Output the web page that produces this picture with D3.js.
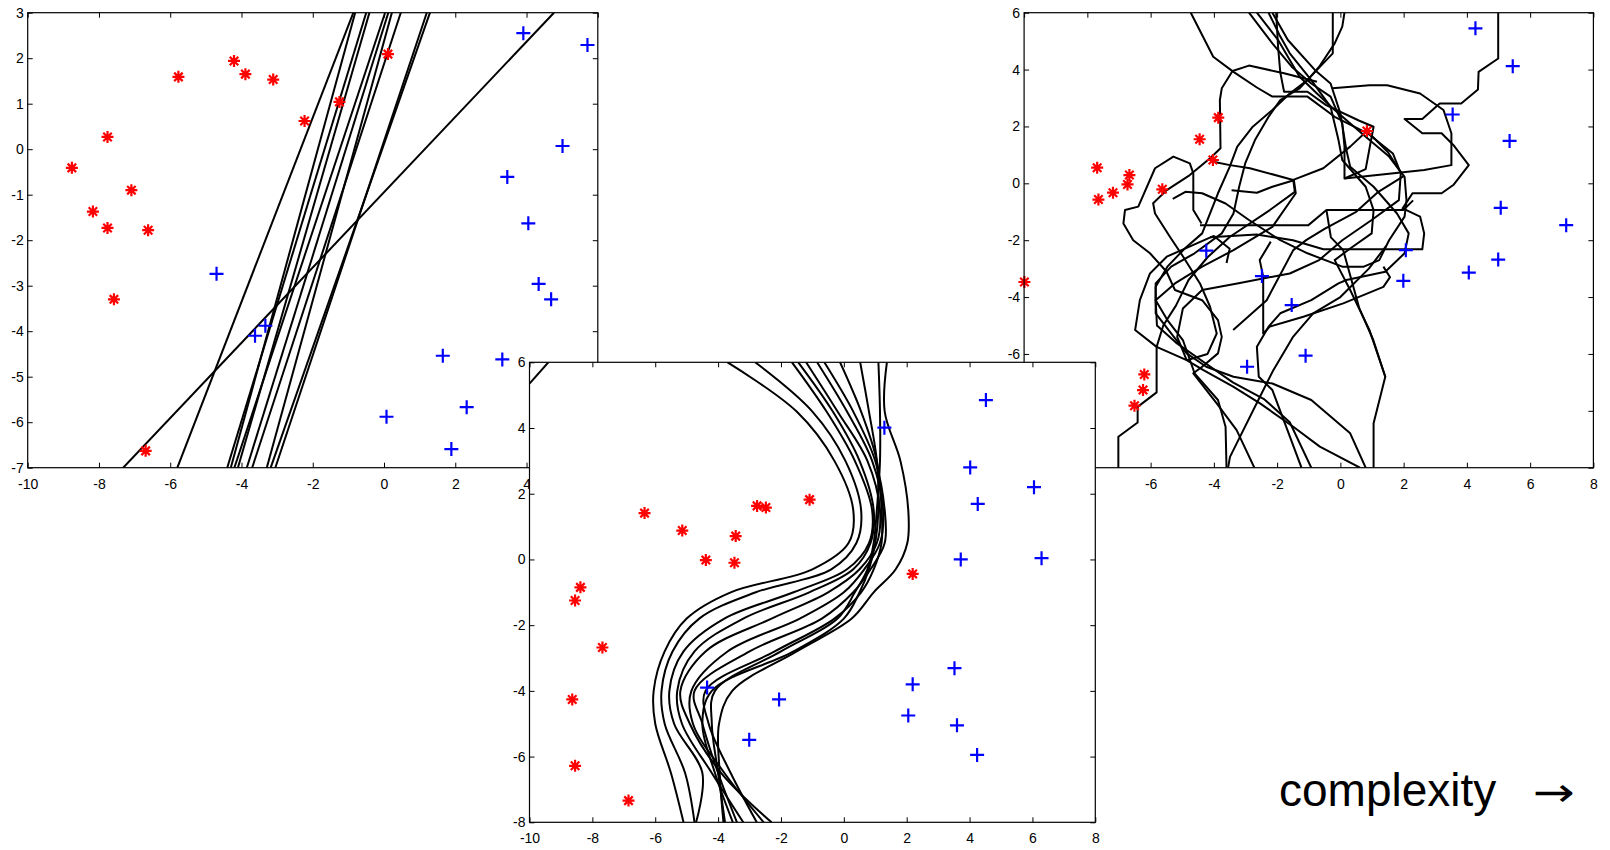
<!DOCTYPE html>
<html><head><meta charset="utf-8">
<script src="https://cdn.jsdelivr.net/npm/d3@7"></script>
<style>body{margin:0;background:#fff}svg{display:block}</style>
</head><body>
<svg id="c" width="1610" height="850"></svg>
<script>
// ---------- LEFT PANEL (linear boundaries) ----------
const leftXTicks = [-10,-8,-6,-4,-2,0,2,4,6];
const leftYTicks = [-7,-6,-5,-4,-3,-2,-1,0,1,2,3];
const leftRed = [[-8.76,-0.41],[-7.76,0.27],[-8.17,-1.37],[-7.76,-1.73],[-7.09,-0.90],[-6.62,-1.78],[-7.58,-3.30],[-5.77,1.59],[-4.21,1.94],[-3.89,1.65],[-3.11,1.53],[-2.23,0.62],[-1.25,1.04],[0.11,2.09],[-6.69,-6.63]];
const leftBlue = [[3.91,2.55],[5.71,2.29],[5.01,0.07],[3.46,-0.61],[4.05,-1.63],[4.34,-2.96],[4.69,-3.30],[-4.70,-2.74],[-3.62,-4.10],[-3.33,-3.88],[1.65,-4.54],[3.32,-4.62],[0.07,-5.88],[2.32,-5.67],[1.89,-6.59]];
// each line: x where it meets y=-7 (bottom) and y=3 (top)
const leftLineBottomX = [-7.32,-5.80,-4.40,-4.30,-4.20,-4.10,-3.85,-3.70,-3.29,-3.18,-3.05];
const leftLineTopX    = [ 4.77,-0.86,-0.50,-0.81, 0.03,-0.41, 0.12, 0.47, 0.22, 1.29, 1.20];

// ---------- MIDDLE PANEL (smooth boundaries) ----------
const midXTicks = [-10,-8,-6,-4,-2,0,2,4,6,8];
const midYTicks = [-8,-6,-4,-2,0,2,4,6];
const midRed = [[-6.34,1.41],[-5.14,0.88],[-4.39,-0.02],[-3.44,0.71],[-3.48,-0.10],[-2.76,1.63],[-2.48,1.58],[-1.09,1.82],[-8.38,-0.85],[-8.55,-1.25],[-7.68,-2.68],[-8.64,-4.26],[-8.55,-6.28],[-6.85,-7.34],[2.19,-0.44]];
const midBlue = [[1.29,4.01],[4.52,4.85],[4.02,2.80],[4.26,1.69],[6.05,2.20],[3.72,0.00],[6.29,0.04],[3.52,-3.31],[2.19,-3.80],[2.05,-4.75],[3.60,-5.05],[4.24,-5.95],[-4.35,-3.90],[-2.06,-4.26],[-3.01,-5.49]];
const midCurveY = [6, 4.5, 3, 1.5, 0.5, -0.3, -1, -1.8, -2.8, -4, -5, -6.5, -8];
const midCurvesX = [
  [-3.70,-1.50,-0.30,0.30,0.15,-1.00,-3.60,-5.00,-5.70,-6.05,-6.00,-5.50,-5.10],
  [-2.82,-1.00,0.05,0.55,0.40,-0.40,-2.80,-4.60,-5.45,-5.80,-5.70,-5.05,-4.75],
  [-1.65,-0.55,0.35,0.90,0.80,0.10,-1.60,-3.80,-5.10,-5.55,-5.40,-4.50,-4.70],
  [-1.45,-0.35,0.50,0.95,0.85,0.30,-1.10,-3.20,-4.75,-5.30,-5.15,-4.20,-3.20],
  [-1.20,-0.20,0.75,1.15,1.05,0.50,-0.50,-2.30,-4.40,-5.20,-4.90,-3.90,-2.30],
  [-0.85,0.10,0.90,1.25,1.15,0.65,0.00,-1.40,-3.70,-4.85,-4.80,-3.80,-2.55],
  [-0.62,0.30,1.00,1.30,1.30,0.85,0.30,-0.70,-3.00,-4.75,-4.50,-4.00,-3.40],
  [-0.12,0.55,1.05,1.20,1.20,0.95,0.55,-0.30,-2.20,-4.40,-4.30,-3.60,-2.77],
  [0.52,0.80,1.05,1.10,1.00,0.80,0.50,0.00,-1.60,-4.20,-4.50,-4.10,-3.53],
  [1.10,1.15,1.15,1.05,0.95,0.75,0.35,-0.20,-2.00,-4.10,-4.20,-4.00,-3.78],
  [1.37,1.30,1.80,2.05,2.02,1.65,0.95,0.25,-1.50,-3.55,-3.97,-3.95,-3.83]
];
const midCornerCurve = [[-10,5.35],[-9.4,6]];

// ---------- RIGHT PANEL (jagged boundaries) ----------
const rightXTicks = [-10,-8,-6,-4,-2,0,2,4,6,8];
const rightYTicks = [-10,-8,-6,-4,-2,0,2,4,6];
const rightRed = [[-7.69,0.55],[-7.65,-0.57],[-7.19,-0.33],[-6.67,0.29],[-6.73,-0.04],[-5.63,-0.21],[-4.45,1.55],[-3.86,2.31],[-4.03,0.82],[0.84,1.84],[-9.99,-3.47],[-6.20,-6.72],[-6.24,-7.27],[-6.51,-7.82]];
const rightBlue = [[4.27,5.45],[5.45,4.12],[3.55,2.42],[5.35,1.49],[5.07,-0.86],[7.14,-1.47],[4.99,-2.68],[4.06,-3.14],[2.07,-2.35],[1.99,-3.43],[-4.24,-2.37],[-2.48,-3.26],[-1.54,-4.28],[-1.10,-6.06],[-2.95,-6.45]];
const rightPaths = [
  [[4.99,6.0],[4.99,4.39],[4.37,3.92],[4.35,3.30],[3.82,2.81],[3.14,2.81],[2.59,2.26],[2.03,2.26],[2.59,1.76],[3.20,1.76],[3.57,1.35],[4.06,0.64],[3.57,-0.06],[3.20,-0.35],[2.28,-0.35],[1.97,-0.88],[2.52,-1.17],[2.65,-1.76],[2.59,-2.32],[-0.54,-2.32],[-1.5,-2.0],[-2.65,-1.8],[-4.12,-1.9]],
  [[-4.73,6.0],[-4.02,4.45],[-3.38,3.92],[-2.64,3.37],[-2.15,3.05],[-1.04,3.05],[-0.18,2.34],[0.86,1.76],[1.66,1.05],[1.91,0.35],[1.85,-0.59],[0.99,-1.29],[0.06,-2.00],[-0.67,-2.70],[-1.60,-3.17],[-3.26,-3.52],[-4.37,-3.75],[-4.98,-4.40],[-5.16,-5.40],[-4.86,-6.22],[-4.33,-6.57],[-3.39,-7.15],[-2.54,-7.74],[-1.49,-8.56],[-0.65,-9.26],[0.62,-10.0]],
  [[-2.89,6.0],[-2.15,4.92],[-1.54,4.10],[-0.92,3.51],[-0.31,3.05],[0.06,2.11],[0.13,1.29],[0.13,0.17],[2.65,0.47],[3.51,0.64],[3.51,1.76],[3.26,2.58],[2.52,3.16],[1.48,3.45],[0.92,3.45],[-0.25,3.34]],
  [[-2.64,6.0],[-1.97,5.04],[-1.29,3.75],[-0.74,3.16],[-0.18,2.58],[0.80,1.64],[1.54,0.94],[2.03,0.23],[2.09,-0.59],[2.03,-1.17],[1.54,-2.00],[1.23,-2.70],[0.74,-2.93],[0.06,-2.93],[-1.04,-2.46],[-1.90,-2.00],[-2.89,-1.29],[-3.63,-0.71],[-4.37,-0.35],[-4.9,-0.3],[-5.3,-0.55]],
  [[-2.27,6.0],[-1.90,5.16],[-1.60,4.57],[-0.92,3.63],[-0.31,2.69],[-0.06,1.52],[0.06,0.82],[0.80,-0.12],[1.05,-0.94],[0.99,-1.76],[0.31,-2.29],[-0.18,-2.70],[0.31,-3.75],[0.92,-5.16],[1.42,-6.80],[1.05,-8.44],[1.05,-10.0]],
  [[-2.15,6.0],[-1.66,5.04],[-0.80,3.98],[-0.31,3.51],[0.00,2.46],[0.19,1.17],[0.31,0.58],[1.05,-0.12],[1.79,-1.06],[2.16,-1.76],[2.03,-2.46],[1.42,-3.11],[0.19,-3.40],[-0.06,-3.52],[-0.92,-4.11],[-1.90,-4.57],[-2.27,-5.04],[-2.64,-5.75],[-2.58,-6.80],[-2.15,-7.27],[-1.70,-8.6],[-1.23,-10.0]],
  [[-2.03,6.0],[-1.97,4.80],[-1.90,3.9],[-1.78,3.22],[-1.04,3.22],[-0.45,2.75],[0.6,2.2],[1.05,1.99],[0.95,1.4],[0.8,0.5],[0.13,0.17]],
  [[-0.24,6.0],[-0.24,4.57],[-0.80,3.92],[-1.29,3.34],[-1.90,2.93],[-2.27,2.34],[-2.70,1.52],[-3.01,0.70],[-3.20,-0.12],[-3.38,-1.06],[-3.75,-1.76],[-4.61,-2.46],[-5.35,-2.93],[-5.84,-3.52],[-5.84,-4.11],[-5.47,-4.81],[-4.98,-5.51],[-4.61,-6.68],[-3.87,-7.62],[-3.63,-8.56],[-3.60,-10.0]],
  [[0.13,6.0],[0.06,5.51],[-0.18,4.92],[-0.67,4.10],[-1.04,3.63],[-1.60,3.16],[-2.15,2.58],[-2.77,1.99],[-3.26,1.29],[-3.50,0.58],[-3.87,-0.35],[-4.12,-1.06],[-4.37,-1.76],[-4.92,-2.29],[-5.47,-2.93],[-5.84,-3.64],[-5.84,-4.57],[-5.35,-5.28],[-4.86,-5.98],[-4.24,-6.45],[-3.38,-6.80],[-2.15,-7.04],[-0.92,-7.62],[0.31,-8.79],[0.80,-10.0]],
  [[-4.39,-1.41],[-4.65,-0.94],[-4.65,0.35],[-4.76,0.70],[-5.28,0.94],[-5.86,0.53],[-6.39,-0.82],[-6.81,-0.94],[-6.86,-1.41],[-6.55,-2.0],[-6.02,-2.46],[-5.5,-3.1],[-5.23,-3.75],[-4.37,-4.11],[-3.87,-4.81],[-3.75,-5.40],[-3.87,-5.98],[-4.37,-6.45],[-4.65,-6.68],[-3.91,-7.74],[-3.28,-8.68],[-2.72,-10.0]],
  [[-0.74,3.57],[-1.78,3.87],[-2.89,4.14],[-3.41,3.95],[-3.75,3.34],[-3.81,2.93],[-3.79,1.23],[-4.12,0.88],[-4.76,0.29],[-5.49,-0.24],[-5.92,-0.70],[-5.86,-1.06],[-5.39,-1.88],[-4.97,-2.58],[-4.44,-3.52],[-4.12,-4.34],[-3.91,-5.28],[-4.2,-6.0],[-4.86,-6.22]],
  [[-7.02,-10.0],[-7.02,-8.91],[-6.41,-8.41],[-6.41,-7.86],[-5.81,-7.35],[-5.81,-5.75],[-6.49,-5.16],[-6.34,-4.11],[-6.02,-3.17],[-5.49,-2.58],[-4.54,-2.11],[-4.0,-1.85],[-3.5,-2.3],[-3.6,-2.8]],
  [[-4.44,-1.47],[-1.01,-1.47],[-0.44,-0.94],[1.99,-0.94],[2.3,-0.6]],
  [[-4.02,0.76],[-3.49,0.64],[-2.86,0.53],[-1.49,0.12],[-0.54,0.53],[0.31,1.29],[0.84,1.84],[1.5,1.1],[1.9,0.4]],
  [[-1.49,0.12],[-1.44,-0.30],[-2.23,-0.94],[-3.49,-1.88],[-4.2,-2.6],[-4.8,-3.4],[-5.2,-4.3],[-5.6,-5.0],[-5.81,-5.75],[-4.86,-6.22]],
  [[-3.44,-0.24],[-2.64,-0.33],[-2.15,-0.12],[-1.47,0.11],[-1.41,-0.35],[-2.15,-1.53],[-3.38,-2.35],[-4.37,-2.93],[-5.23,-3.52],[-5.84,-4.11],[-5.8,-5.0],[-5.2,-5.6],[-4.3,-6.3],[-3.4,-7.0],[-2.4,-7.6],[-1.6,-8.4],[-0.92,-10.0]],
  [[-2.2,-2.05],[-2.55,-2.7],[-2.44,-3.28],[-2.44,-5.28],[-2.23,-5.04],[-1.17,-4.69],[0.09,-4.22],[1.36,-3.64],[1.57,-3.3],[1.36,-2.93]],
  [[1.42,-6.8],[1.04,-5.51],[0.6,-4.4],[0.09,-2.35],[-0.3,-1.9],[-0.44,-0.94]],
  [[-3.39,-5.16],[-2.33,-4.11],[-1.49,-2.35],[-1.07,-1.99],[-0.5,-1.6],[0.5,-1.0],[1.2,-0.3],[2.0,0.25]],
  [[1.45,-2.2],[0.9,-3.0],[0.0,-4.0],[-0.86,-4.57],[-1.49,-5.39],[-2.12,-6.57],[-2.65,-7.74],[-3.49,-9.62],[-3.55,-10.0]]
];

const captionText = "complexity";
const captionArrow = "\u2192";

// ---------- drawing ----------
const svg = d3.select('#c');
const FONT = '"Liberation Sans", Arial, Helvetica, sans-serif';
let clipN = 0;

function starPath(cx, cy, r) {
  const d = r * Math.SQRT1_2;
  return `M${cx-r},${cy}L${cx+r},${cy}M${cx},${cy-r}L${cx},${cy+r}` +
         `M${cx-d},${cy-d}L${cx+d},${cy+d}M${cx-d},${cy+d}L${cx+d},${cy-d}`;
}
function plusPath(cx, cy, r) {
  return `M${cx-r},${cy}L${cx+r},${cy}M${cx},${cy-r}L${cx},${cy+r}`;
}

function panel(box, xdom, ydom, xticks, yticks) {
  const x = d3.scaleLinear().domain(xdom).range([box.x0, box.x1]);
  const y = d3.scaleLinear().domain(ydom).range([box.y1, box.y0]);
  const g = svg.append('g');
  g.append('rect').attr('x', box.x0).attr('y', box.y0)
    .attr('width', box.x1 - box.x0).attr('height', box.y1 - box.y0)
    .attr('fill', '#fff');
  const id = 'clip' + (clipN++);
  g.append('clipPath').attr('id', id).append('rect')
    .attr('x', box.x0).attr('y', box.y0)
    .attr('width', box.x1 - box.x0).attr('height', box.y1 - box.y0);
  const content = g.append('g').attr('clip-path', `url(#${id})`);
  const marks = g.append('g');
  const fmt = d => String(d);
  const style = sel => {
    sel.select('.domain').remove();
    sel.selectAll('line').attr('stroke', '#000').attr('stroke-width', 1);
    sel.selectAll('text').attr('fill', '#000').style('font-family', FONT).style('font-size', '14px');
  };
  const axes = g.append('g');
  axes.append('g').attr('transform', `translate(0,${box.y1})`)
    .call(d3.axisBottom(x).tickValues(xticks).tickSize(-5).tickPadding(11).tickFormat(fmt)).call(style);
  axes.append('g').attr('transform', `translate(0,${box.y0})`)
    .call(d3.axisTop(x).tickValues(xticks).tickSize(-5).tickFormat('')).call(style);
  axes.append('g').attr('transform', `translate(${box.x0},0)`)
    .call(d3.axisLeft(y).tickValues(yticks).tickSize(-5).tickPadding(4).tickFormat(fmt)).call(style);
  axes.append('g').attr('transform', `translate(${box.x1},0)`)
    .call(d3.axisRight(y).tickValues(yticks).tickSize(-5).tickFormat('')).call(style);
  g.append('rect').attr('x', box.x0).attr('y', box.y0)
    .attr('width', box.x1 - box.x0).attr('height', box.y1 - box.y0)
    .attr('fill', 'none').attr('stroke', '#000').attr('stroke-width', 1.2);
  return {x, y, content, marks};
}

function drawMarkers(p, red, blue) {
  p.marks.selectAll('path.star').data(red).join('path').attr('class', 'star')
    .attr('d', d => starPath(p.x(d[0]), p.y(d[1]), 6))
    .attr('stroke', '#ff0000').attr('stroke-width', 2.2).attr('fill', 'none');
  p.marks.selectAll('path.plus').data(blue).join('path').attr('class', 'plus')
    .attr('d', d => plusPath(p.x(d[0]), p.y(d[1]), 7))
    .attr('stroke', '#0000ff').attr('stroke-width', 2.2).attr('fill', 'none');
}

// Left panel
const L = panel({x0: 27.7, x1: 597.8, y0: 12.7, y1: 467.7}, [-10, 6], [-7, 3], leftXTicks, leftYTicks);
const lineGen = d3.line();
L.content.selectAll('path.bd').data(leftLineBottomX.map((b, i) => [[b, -7], [leftLineTopX[i], 3]]))
  .join('path').attr('class', 'bd')
  .attr('d', d => lineGen(d.map(q => [L.x(q[0]), L.y(q[1])])))
  .attr('stroke', '#000').attr('stroke-width', 2).attr('fill', 'none');
drawMarkers(L, leftRed, leftBlue);

// Right panel
const R = panel({x0: 1024.1, x1: 1593.4, y0: 12.7, y1: 467.7}, [-10, 8], [-10, 6], rightXTicks, rightYTicks);
R.content.selectAll('path.bd').data(rightPaths).join('path').attr('class', 'bd')
  .attr('d', d => lineGen(d.map(q => [R.x(q[0]), R.y(q[1])])))
  .attr('stroke', '#000').attr('stroke-width', 2).attr('fill', 'none')
  .attr('stroke-linejoin', 'round');
drawMarkers(R, rightRed, rightBlue);

// Middle panel (on top)
const M = panel({x0: 529.5, x1: 1095.3, y0: 362.3, y1: 822.3}, [-10, 8], [-8, 6], midXTicks, midYTicks);
const smooth = d3.line().curve(d3.curveCatmullRom.alpha(0.5));
M.content.selectAll('path.bd').data(midCurvesX.map(xs => xs.map((v, i) => [v, midCurveY[i]])))
  .join('path').attr('class', 'bd')
  .attr('d', d => smooth(d.map(q => [M.x(q[0]), M.y(q[1])])))
  .attr('stroke', '#000').attr('stroke-width', 2).attr('fill', 'none');
M.content.append('path')
  .attr('d', lineGen(midCornerCurve.map(q => [M.x(q[0]), M.y(q[1])])))
  .attr('stroke', '#000').attr('stroke-width', 2).attr('fill', 'none');
drawMarkers(M, midRed, midBlue);

// caption
svg.append('text').attr('x', 1279).attr('y', 806).text(captionText)
  .style('font-family', FONT).style('font-size', '46px').attr('fill', '#000');
svg.append('text').attr('x', 1533).attr('y', 806).text(captionArrow)
  .attr('textLength', 42).attr('lengthAdjust', 'spacingAndGlyphs')
  .style('font-family', '"DejaVu Sans", sans-serif').style('font-size', '40px').attr('fill', '#000');
</script>
</body></html>
